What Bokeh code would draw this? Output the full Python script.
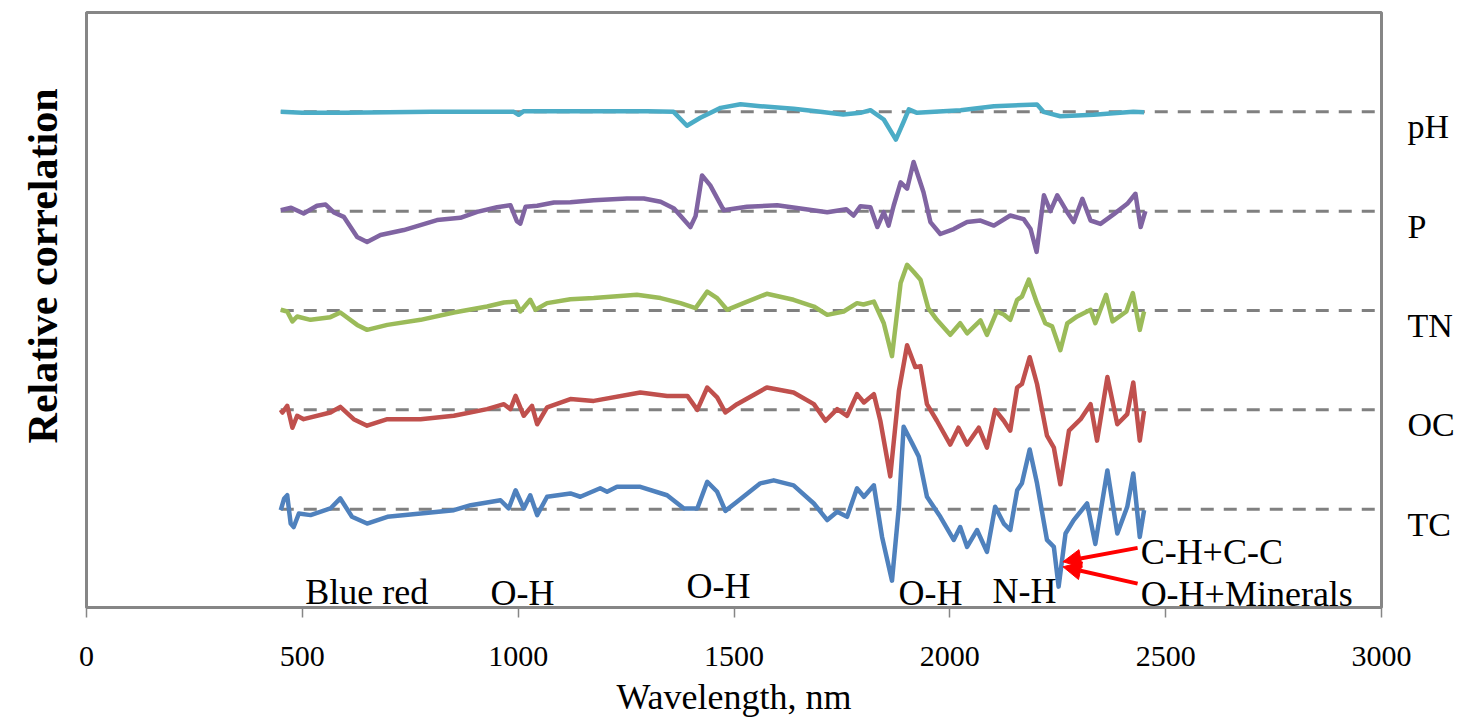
from bokeh.plotting import figure
from bokeh.models import Range1d, FixedTicker, LinearAxis, Arrow, NormalHead, ColumnDataSource, LabelSet, Title
from bokeh.core.properties import value
from bokeh.embed import file_html
from bokeh.resources import INLINE

# ---------------- data ----------------
series_names = ["pH", "P", "TN", "OC", "TC"]
series_colors = ["#4BACC6", "#8064A2", "#9BBB59", "#C0504D", "#4F81BD"]
series_offsets = [4, 3, 2, 1, 0]

ph_wl = [450, 500, 600, 700, 800, 900, 990, 1001, 1012, 1100, 1200, 1300, 1360, 1391, 1422, 1469, 1515, 1561,
         1638, 1700, 1753, 1793, 1816, 1847, 1875, 1893, 1905, 1924, 2025, 2102, 2202, 2217, 2256, 2333, 2425, 2450]
ph_val = [0.0, -0.01, -0.01, -0.005, 0.0, 0.0, 0.0, -0.03, 0.005, 0.005, 0.005, 0.005, 0.0, -0.14, -0.06, 0.04,
          0.077, 0.057, 0.03, 0.0, -0.027, -0.01, 0.017, -0.077, -0.28, -0.1, 0.024, -0.01, 0.017, 0.057, 0.074,
          0.0, -0.044, -0.03, 0.0, -0.005]

p_wl = [450, 474, 503, 534, 554, 573, 596, 627, 650, 681, 735, 812, 866, 905, 951, 982, 997, 1005, 1017, 1044,
        1083, 1121, 1175, 1252, 1291, 1330, 1361, 1399, 1411, 1426, 1445, 1476, 1530, 1600, 1654, 1716, 1760, 1777,
        1793, 1816, 1832, 1847, 1858, 1870, 1886, 1901, 1916, 1939, 1955, 1978, 2009, 2040, 2071, 2102, 2140, 2171,
        2187, 2201, 2218, 2233, 2249, 2272, 2287, 2307, 2326, 2349, 2380, 2411, 2430, 2442, 2453]
p_val = [0.01, 0.034, -0.024, 0.054, 0.067, -0.013, -0.057, -0.26, -0.31, -0.24, -0.19, -0.09, -0.067, -0.007,
         0.04, 0.06, -0.10, -0.125, 0.044, 0.054, 0.088, 0.09, 0.11, 0.128, 0.128, 0.094, 0.027, -0.16, -0.05,
         0.36, 0.26, 0.01, 0.044, 0.06, 0.027, -0.01, 0.02, -0.044, 0.05, 0.04, -0.16, -0.01, -0.145, 0.057, 0.29,
         0.226, 0.495, 0.19, -0.11, -0.23, -0.18, -0.11, -0.095, -0.145, -0.044, -0.08, -0.18, -0.41, 0.16, 0.0,
         0.16, -0.01, -0.11, 0.125, -0.094, -0.128, -0.03, 0.074, 0.175, -0.16, 0.0]

tn_wl = [450, 465, 477, 488, 519, 565, 588, 627, 650, 697, 774, 851, 928, 967, 994, 1005, 1028, 1040, 1067, 1121,
         1175, 1275, 1330, 1376, 1411, 1438, 1461, 1484, 1522, 1576, 1638, 1685, 1716, 1754, 1785, 1800, 1824, 1847,
         1866, 1886, 1901, 1916, 1932, 1950, 1970, 2001, 2024, 2040, 2071, 2086, 2109, 2125, 2140, 2156, 2167, 2183,
         2202, 2221, 2237, 2256, 2272, 2295, 2326, 2337, 2362, 2377, 2409, 2424, 2440, 2450]
tn_val = [0.007, -0.01, -0.11, -0.06, -0.094, -0.067, -0.02, -0.145, -0.195, -0.145, -0.094, -0.02, 0.04, 0.08,
          0.09, -0.01, 0.108, 0.007, 0.074, 0.114, 0.125, 0.158, 0.125, 0.074, 0.024, 0.19, 0.125, 0.007, 0.074,
          0.168, 0.108, 0.04, -0.044, -0.01, 0.074, 0.06, 0.09, -0.128, -0.46, 0.276, 0.46, 0.39, 0.31, 0.024,
          -0.094, -0.245, -0.128, -0.23, -0.1, -0.245, -0.01, -0.04, -0.094, 0.108, 0.14, 0.31, 0.074, -0.128,
          -0.16, -0.4, -0.13, -0.06, 0.007, -0.128, 0.158, -0.11, -0.01, 0.175, -0.195, -0.01]

oc_wl = [450, 454, 465, 477, 488, 503, 565, 588, 619, 650, 697, 774, 851, 928, 967, 982, 994, 1013, 1032, 1044,
         1067, 1121, 1175, 1283, 1345, 1392, 1415, 1438, 1461, 1480, 1507, 1576, 1638, 1685, 1712, 1739, 1762, 1785,
         1801, 1824, 1839, 1862, 1882, 1901, 1920, 1932, 1947, 1970, 2001, 2020, 2040, 2067, 2086, 2105, 2125, 2140,
         2156, 2167, 2185, 2202, 2225, 2241, 2256, 2276, 2303, 2326, 2341, 2365, 2388, 2411, 2425, 2440, 2450]
oc_val = [0.0, -0.027, 0.04, -0.18, -0.06, -0.094, -0.027, 0.03, -0.094, -0.16, -0.094, -0.094, -0.06, 0.007,
          0.057, 0.007, 0.14, -0.06, 0.04, -0.145, 0.024, 0.108, 0.09, 0.175, 0.14, 0.14, 0.0, 0.225, 0.125,
          -0.027, 0.057, 0.225, 0.175, 0.057, -0.11, 0.007, -0.06, 0.158, 0.074, 0.158, -0.11, -0.67, 0.19, 0.65,
          0.43, 0.44, 0.057, -0.11, -0.35, -0.18, -0.35, -0.18, -0.38, 0.0, -0.11, -0.21, 0.225, 0.26, 0.53, 0.26,
          -0.26, -0.38, -0.75, -0.21, -0.094, 0.057, -0.31, 0.33, -0.145, -0.044, 0.276, -0.31, -0.01]

tc_wl = [450, 458, 465, 473, 480, 492, 519, 565, 588, 615, 650, 697, 774, 851, 890, 959, 978, 994, 1013, 1028,
         1044, 1067, 1121, 1144, 1190, 1206, 1229, 1283, 1345, 1384, 1415, 1438, 1461, 1480, 1507, 1561, 1592, 1638,
         1685, 1716, 1739, 1762, 1785, 1801, 1824, 1843, 1866, 1882, 1893, 1913, 1928, 1947, 1978, 2009, 2024, 2040,
         2063, 2086, 2105, 2125, 2140, 2156, 2167, 2185, 2202, 2225, 2241, 2252, 2268, 2287, 2318, 2337, 2365, 2388,
         2411, 2425, 2440, 2450]
tc_val = [-0.01, 0.108, 0.14, -0.145, -0.18, -0.044, -0.06, 0.007, 0.108, -0.077, -0.145, -0.077, -0.044, -0.01,
          0.04, 0.09, 0.007, 0.19, 0.007, 0.14, -0.06, 0.125, 0.158, 0.125, 0.21, 0.175, 0.225, 0.225, 0.14, 0.007,
          0.007, 0.276, 0.175, -0.017, 0.074, 0.26, 0.29, 0.24, 0.057, -0.11, -0.027, -0.077, 0.21, 0.125, 0.24,
          -0.28, -0.72, 0.024, 0.83, 0.66, 0.53, 0.125, -0.077, -0.31, -0.18, -0.38, -0.21, -0.43, 0.024, -0.145,
          -0.21, 0.19, 0.26, 0.6, 0.26, -0.31, -0.38, -0.78, -0.245, -0.11, 0.057, -0.35, 0.39, -0.245, 0.024, 0.36,
          -0.28, -0.01]

baseline_wl = [450, 3000]
x_ticks = [0, 500, 1000, 1500, 2000, 2500, 3000]

band_labels = ["Blue red", "O-H", "O-H", "O-H", "N-H", "C-H+C-C", "O-H+Minerals"]
band_x = [507, 936, 1390, 1881, 2099, 2442, 2442]
band_y = [-0.83, -0.84, -0.77, -0.845, -0.82, -0.43, -0.85]

arrow_x_start = [2435, 2435]
arrow_y_start = [-0.39, -0.75]
arrow_x_end = [2262, 2262]
arrow_y_end = [-0.53, -0.58]

y_title = "Relative correlation"

# ---------------- figure ----------------
SERIF = "Liberation Serif"
GRAY = "#868686"

p = figure(width=1475, height=728, output_backend="svg", toolbar_location=None,
           x_range=Range1d(0, 3000), y_range=Range1d(-0.99, 5.0),
           min_border_left=86, min_border_right=94, min_border_top=12, min_border_bottom=121)
p.grid.visible = False
p.outline_line_color = GRAY
p.outline_line_width = 3
p.background_fill_color = "white"
p.border_fill_color = "white"

xa = p.xaxis[0]
xa.ticker = FixedTicker(ticks=x_ticks)
xa.axis_line_color = GRAY
xa.axis_line_width = 3
xa.major_tick_line_color = GRAY
xa.major_tick_line_width = 1.5
xa.major_tick_out = 10
xa.major_tick_in = 0
xa.minor_tick_line_color = None
xa.major_label_text_font = SERIF
xa.major_label_text_font_size = "30px"
xa.major_label_text_color = "black"
xa.major_label_standoff = 29
xa.axis_label = "Wavelength, nm"
xa.axis_label_text_font = SERIF
xa.axis_label_text_font_size = "36px"
xa.axis_label_text_font_style = "normal"
xa.axis_label_text_color = "black"
xa.axis_label_standoff = 8

ya = p.yaxis[0]
ya.ticker = FixedTicker(ticks=[])
ya.axis_line_color = GRAY
ya.axis_line_width = 3
ya.major_tick_out = 0
ya.major_tick_in = 0
ya.minor_tick_line_color = None
ya.major_label_text_font_size = "0px"
ya.major_label_standoff = 0

label_ticks = [o - 0.15 for o in series_offsets]
ra = LinearAxis(ticker=FixedTicker(ticks=label_ticks),
                major_label_overrides={t: n for t, n in zip(label_ticks, series_names)})
ra.axis_line_color = None
ra.major_tick_line_color = None
ra.minor_tick_line_color = None
ra.major_label_text_font = SERIF
ra.major_label_text_font_size = "34px"
ra.major_label_text_color = "black"
ra.major_label_standoff = 20
p.add_layout(ra, "right")

# y axis title (a side title, so it can sit above the frame centre as in the original)
p.add_layout(Title(text=y_title, align="right", vertical_align="top", offset=76, text_font=SERIF,
                   text_font_size="42px", text_font_style="bold", text_color="black", standoff=37), "left")

# dashed baselines
for off in series_offsets:
    p.line(baseline_wl, [off] * len(baseline_wl), line_color="#808080", line_width=3, line_dash="13 10")

# spectra
all_wl = [ph_wl, p_wl, tn_wl, oc_wl, tc_wl]
all_val = [ph_val, p_val, tn_val, oc_val, tc_val]
for wl, vals, off, col in zip(all_wl, all_val, series_offsets, series_colors):
    src = ColumnDataSource(data=dict(x=wl, y=[v + off for v in vals]))
    p.line("x", "y", source=src, line_color=col, line_width=4.5, line_join="round")

# band labels
band_src = ColumnDataSource(data=dict(x=band_x, y=band_y, text=band_labels))
p.add_layout(LabelSet(x="x", y="y", text="text", source=band_src, text_font=value(SERIF),
                      text_font_size="36px", text_baseline="middle", text_align="left", text_color="black"))

# arrows
for xs, ys, xe, ye in zip(arrow_x_start, arrow_y_start, arrow_x_end, arrow_y_end):
    p.add_layout(Arrow(end=NormalHead(size=18, fill_color="red", line_color="red"),
                       x_start=xs, y_start=ys, x_end=xe, y_end=ye,
                       line_color="red", line_width=4))

open("out.html", "w").write(file_html(p, INLINE))
